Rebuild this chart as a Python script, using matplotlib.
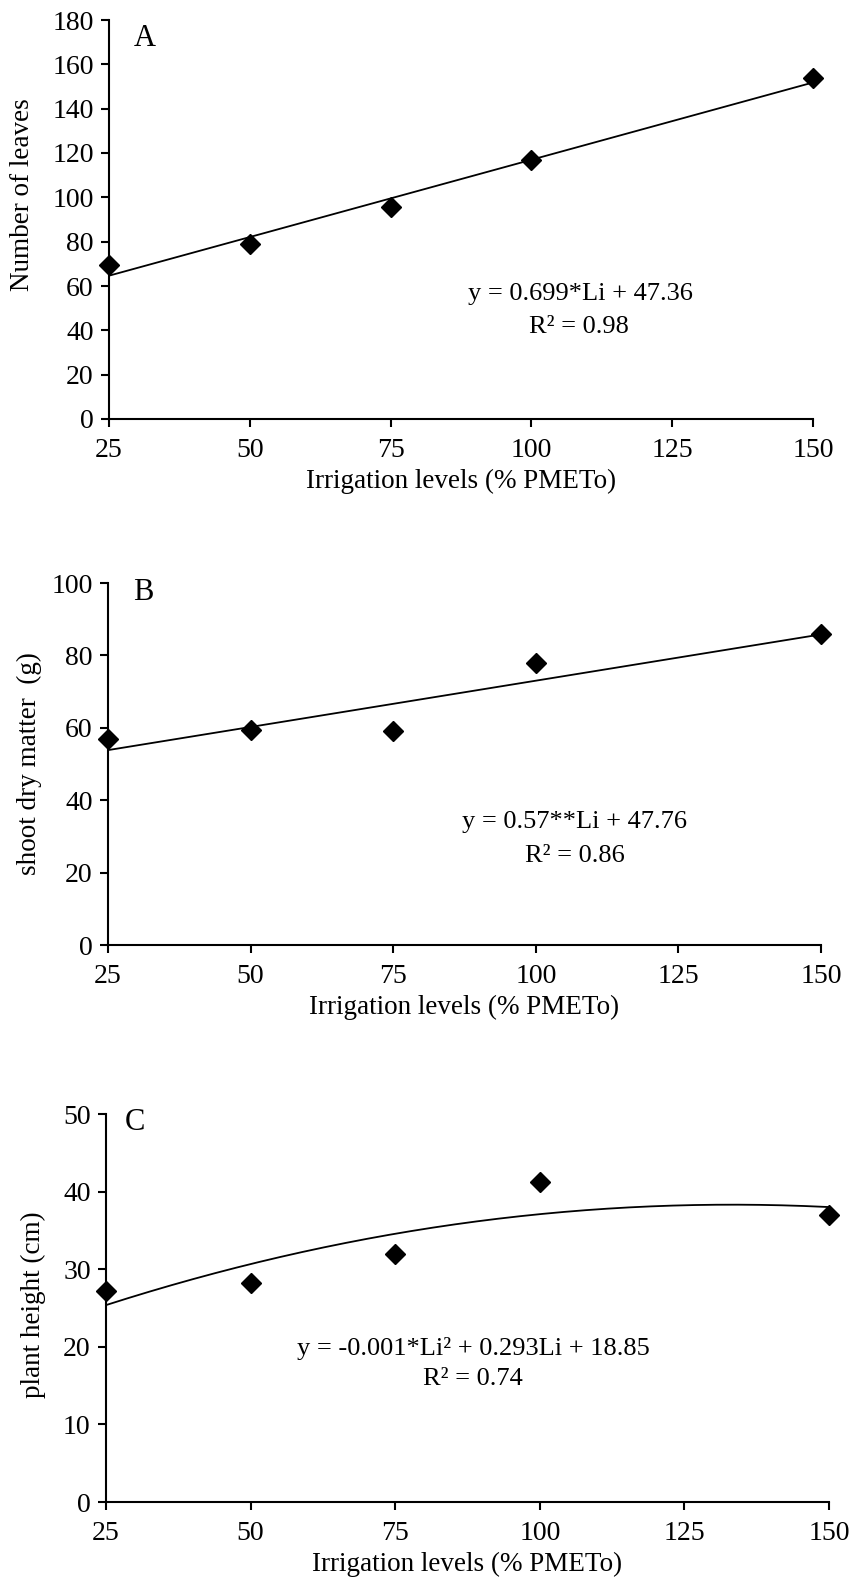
import numpy as np
import matplotlib
matplotlib.use("Agg")
import matplotlib.pyplot as plt

plt.rcParams['font.family'] = ['Liberation Serif', 'DejaVu Serif']

# irrigation levels (% PMETo)
levels = [25, 50, 75, 100, 150]
x_ticks = [25, 50, 75, 100, 125, 150]

# A - number of leaves
leaves = [69.5, 79, 95.5, 117, 154]
# B - shoot dry matter (g)
dry_matter = [57, 59.5, 59, 78, 86]
# C - plant height (cm)
height = [27.2, 28.2, 32, 41.3, 37]

panels = [
    dict(letter="A", y=leaves, deg=1, ylabel="Number of leaves",
         ylim=(0, 180), ystep=20,
         eq=["y = 0.699*Li + 47.36", "R² = 0.98"],
         pos=[109, 20, 813, 419], eqpos=[(580, 294), (579, 327)], lpos=(145, 38),
         ylab=(35, 195)),
    dict(letter="B", y=dry_matter, deg=1, ylabel="shoot dry matter  (g)",
         ylim=(0, 100), ystep=20,
         eq=["y = 0.57**Li + 47.76", "R² = 0.86"],
         pos=[108, 583, 821, 945], eqpos=[(575, 822), (575, 856)], lpos=(143, 593),
         ylab=(42, 764)),
    dict(letter="C", y=height, deg=2, ylabel="plant height (cm)",
         ylim=(0, 50), ystep=10,
         eq=["y = -0.001*Li² + 0.293Li + 18.85", "R² = 0.74"],
         pos=[106, 1114, 829, 1502], eqpos=[(473, 1349), (473, 1379)], lpos=(135, 1122),
         ylab=(46, 1305)),
]

W, H = 854, 1586
fig = plt.figure(figsize=(W / 100, H / 100), dpi=100)

for p in panels:
    l, t, r, b = p['pos']
    ax = fig.add_axes([l / W, 1 - b / H, (r - l) / W, (b - t) / H])
    # trend line fitted to the points
    coef = np.polyfit(levels, p['y'], p['deg'])
    xs = np.linspace(levels[0], levels[-1], 200)
    ax.plot(xs, np.polyval(coef, xs), color='black', lw=1.3, zorder=2)
    ax.plot(levels, p['y'], linestyle='none', marker='D', markersize=10,
            color='black', clip_on=False, zorder=3)

    ax.set_xlim(25, 150)
    ax.set_ylim(*p['ylim'])
    ax.set_xticks(x_ticks)
    ax.set_yticks(np.arange(p['ylim'][0], p['ylim'][1] + 1, p['ystep']))
    for s in ['top', 'right']:
        ax.spines[s].set_visible(False)
    for s in ['left', 'bottom']:
        ax.spines[s].set_linewidth(1.5)
    ax.tick_params(direction='out', length=6, width=1.5, labelsize=20)
    ax.tick_params(axis='x', pad=8)
    ax.tick_params(axis='y', pad=5)
    ax.set_xlabel("Irrigation levels (% PMETo)", fontsize=19.5, labelpad=4)
    ax.set_ylabel(p['ylabel'], fontsize=19.5)
    lx, ly = p['ylab']
    ax.yaxis.set_label_coords((lx - l) / (r - l), (b - ly) / (b - t))

    fig.text(p['lpos'][0] / W, 1 - p['lpos'][1] / H, p['letter'], fontsize=22,
             ha='center', va='center')
    for txt, (ex, ey) in zip(p['eq'], p['eqpos']):
        fig.text(ex / W, 1 - ey / H, txt, fontsize=19, ha='center', va='center')

fig.savefig("out.png", dpi=100)
